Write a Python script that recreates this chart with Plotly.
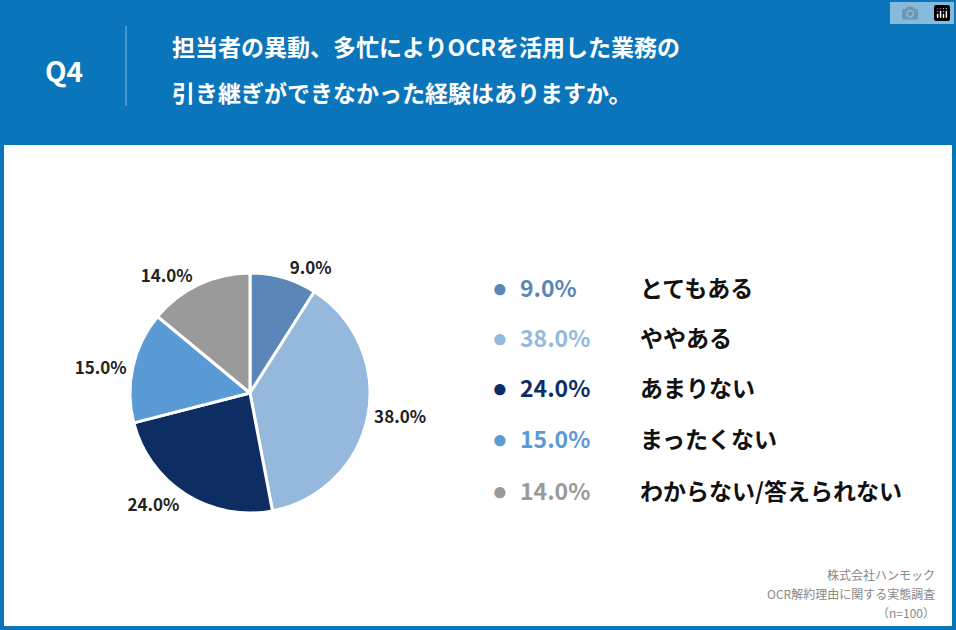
import plotly.graph_objects as go

categories = ["とてもある", "ややある", "あまりない", "まったくない", "わからない/答えられない"]
values = [9.0, 38.0, 24.0, 15.0, 14.0]
colors = ["#5b86b8", "#94b9dc", "#0d2d63", "#5b9bd5", "#9a9a9a"]
title_lines = ["担当者の異動、多忙によりOCRを活用した業務の", "引き継ぎができなかった経験はありますか。"]
source_lines = ["株式会社ハンモック", "OCR解約理由に関する実態調査", "（n=100）"]

W, H = 956, 630
FONT = "Noto Sans CJK JP"
fig = go.Figure()
fig.add_trace(go.Pie(
    labels=categories, values=values, sort=False, direction="clockwise", rotation=0,
    marker=dict(colors=colors, line=dict(color="white", width=3)),
    texttemplate="<b>%{value:.1f}%</b>", textposition="outside",
    textfont=dict(family=FONT, size=17, color="#222"),
    domain=dict(x=[130/W, 370/W], y=[(H-513)/H, (H-273)/H]),
    showlegend=False, hoverinfo="skip",
))

shapes = [
    dict(type="rect", xref="paper", yref="paper", x0=0, x1=1, y0=(H-145)/H, y1=1,
         fillcolor="#0a75bb", line_width=0, layer="below"),
    dict(type="rect", xref="paper", yref="paper", x0=0, x1=4/W, y0=0, y1=1,
         fillcolor="#0a75bb", line_width=0, layer="below"),
    dict(type="rect", xref="paper", yref="paper", x0=1-4/W, x1=1, y0=0, y1=1,
         fillcolor="#0a75bb", line_width=0, layer="below"),
    dict(type="rect", xref="paper", yref="paper", x0=0, x1=1, y0=0, y1=4/H,
         fillcolor="#0a75bb", line_width=0, layer="below"),
    dict(type="line", xref="paper", yref="paper", x0=126/W, x1=126/W, y0=(H-106)/H, y1=(H-26)/H,
         line=dict(color="rgba(255,255,255,0.5)", width=1)),
]
ann = [
    dict(x=64/W, y=(H-70)/H, text="<b>Q4</b>", xanchor="center", font=dict(family=FONT, size=28, color="white")),
    dict(x=170/W, y=(H-46)/H, text="<b>"+title_lines[0]+"</b>", xanchor="left",
         font=dict(family=FONT, size=23, color="white")),
    dict(x=170/W, y=(H-92)/H, text="<b>"+title_lines[1]+"</b>", xanchor="left",
         font=dict(family=FONT, size=23, color="white")),
]
ys = [287, 337, 387, 438, 490]
for c, v, col, y in zip(categories, values, colors, ys):
    ann.append(dict(x=500/W, y=(H-y)/H, text="●", xanchor="center", font=dict(size=26, color=col)))
    ann.append(dict(x=518/W, y=(H-y)/H, text=f"<b>{v:.1f}%</b>", xanchor="left",
                    font=dict(family=FONT, size=23, color=col)))
    ann.append(dict(x=638/W, y=(H-y)/H, text=f"<b>{c}</b>", xanchor="left",
                    font=dict(family=FONT, size=23, color="#111")))
for i, s in enumerate(source_lines):
    ann.append(dict(x=937/W, y=(H-574-i*19)/H, text=s, xanchor="right",
                    font=dict(family=FONT, size=12, color="#888")))
for a in ann:
    a.update(xref="paper", yref="paper", showarrow=False, yanchor="middle")

fig.update_layout(width=W, height=H, margin=dict(l=0, r=0, t=0, b=0),
                  paper_bgcolor="white", plot_bgcolor="white",
                  shapes=shapes, annotations=ann)
fig.write_html("out.html", post_script="document.body.style.margin='0';document.body.style.overflow='hidden';")
